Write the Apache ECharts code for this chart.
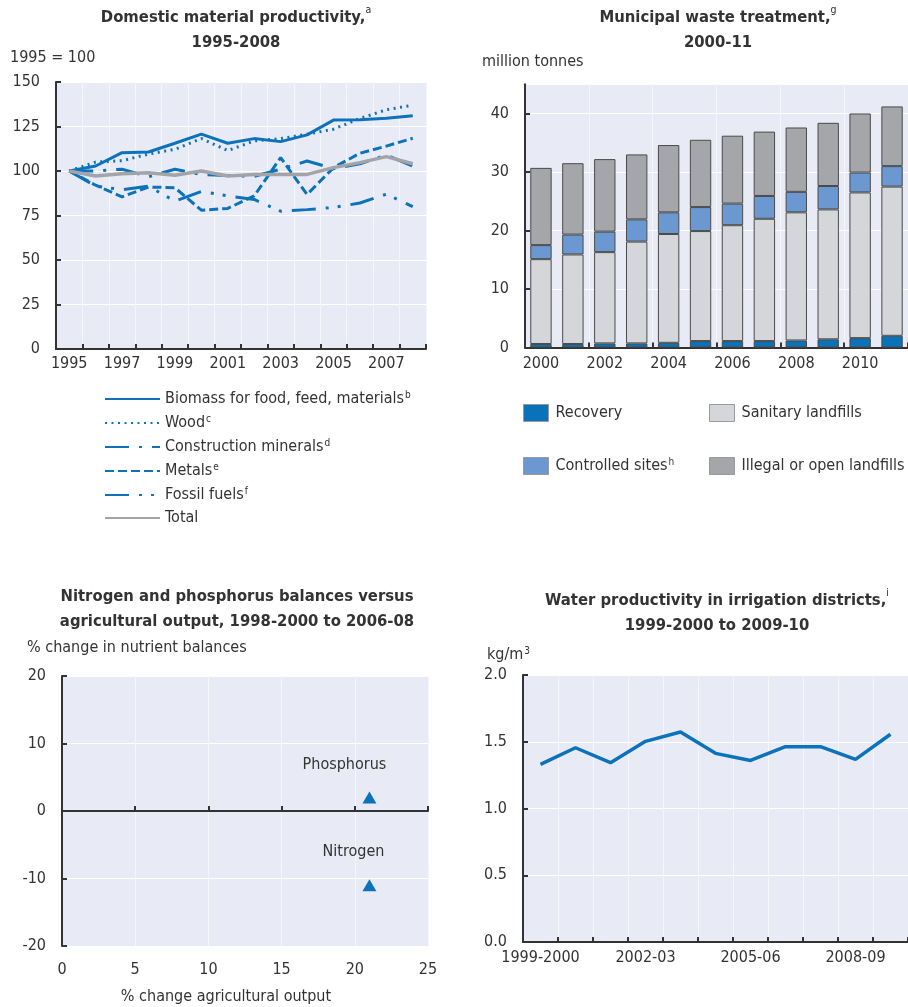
<!DOCTYPE html>
<html>
<head>
<meta charset="utf-8">
<script src="https://cdn.jsdelivr.net/npm/echarts@6/dist/echarts.min.js"></script>
<style>
  html, body { margin: 0; padding: 0; background: #ffffff; }
  #chart { width: 908px; height: 1007px; }
</style>
</head>
<body>
<div id="chart"></div>
<script>
// ---- Domestic material productivity, 1995 = 100 ----
const dmpYears = ['1995','1996','1997','1998','1999','2000','2001','2002','2003','2004','2005','2006','2007','2008'];
const biomass      = [100, 102.8, 110.3, 110.7, 115.6, 120.7, 115.6, 118.2, 116.5, 120.3, 128.6, 128.8, 129.7, 131.0];
const wood         = [100, 105.0, 105.8, 109.5, 112.2, 118.2, 111.5, 116.9, 118.2, 120.7, 123.5, 129.5, 134.4, 137.0];
const construction = [100, 100.0, 101.0, 96.8, 101.0, 98.0, 97.5, 97.0, 101.0, 105.6, 101.3, 104.0, 109.0, 102.8];
const metals       = [100, 92.0, 85.5, 91.0, 90.6, 78.0, 79.0, 86.0, 107.5, 86.8, 101.9, 110.0, 114.0, 118.4];
const fossil       = [100, 91.5, 89.5, 91.5, 83.0, 88.5, 86.0, 84.0, 77.4, 78.3, 79.5, 82.0, 87.0, 80.0];
const totalDmp     = [100, 97.2, 98.5, 99.0, 97.6, 100.0, 97.2, 98.1, 98.1, 98.1, 101.9, 104.7, 108.1, 104.1];

// ---- Municipal waste treatment, million tonnes ----
const wasteYears = ['2000','2001','2002','2003','2004','2005','2006','2007','2008','2009','2010','2011'];
const recovery   = [0.6, 0.6, 0.7, 0.7, 0.8, 1.1, 1.1, 1.1, 1.2, 1.4, 1.6, 2.0];
const sanitary   = [14.5, 15.3, 15.6, 17.4, 18.6, 18.8, 19.8, 20.9, 21.9, 22.2, 24.9, 25.5];
const controlled = [2.4, 3.4, 3.5, 3.8, 3.7, 4.1, 3.7, 3.9, 3.5, 4.0, 3.4, 3.5];
const illegal    = [13.2, 12.2, 12.4, 11.1, 11.5, 11.5, 11.6, 11.0, 11.0, 10.8, 10.1, 10.2];

// ---- Nutrient balances vs agricultural output (% change) ----
const nutrientNames = ['Phosphorus', 'Nitrogen'];
const agOutputChange = [21, 21];
const balanceChange  = [2, -11];

// ---- Water productivity in irrigation districts, kg/m3 ----
const waterSeasons = ['1999-2000','2000-01','2001-02','2002-03','2003-04','2004-05','2005-06','2006-07','2007-08','2008-09','2009-10'];
const waterProd    = [1.33, 1.455, 1.343, 1.503, 1.573, 1.413, 1.36, 1.463, 1.463, 1.368, 1.556];

const FONT = '"Liberation Sans Narrow","Arial Narrow","DejaVu Sans Condensed",sans-serif';
const BLUE = '#0c72ba';
const INK = '#333333';
const PLOT_BG = '#e8ebf6';

const supRich = {
  n: { fontFamily: FONT, fontSize: 16, fontWeight: 'normal', color: INK, lineHeight: 18 },
  s: { fontFamily: FONT, fontSize: 10, fontWeight: 'normal', color: INK, lineHeight: 18, verticalAlign: 'top', padding: [0, 0, 6, 1] }
};
const titleRich = {
  t: { fontFamily: FONT, fontSize: 16.5, fontWeight: 'bold', color: INK, lineHeight: 25 },
  s: { fontFamily: FONT, fontSize: 10.5, fontWeight: 'normal', color: INK, lineHeight: 25, verticalAlign: 'top', padding: [0, 0, 10, 0] }
};

function chartTitle(text, cx, top) {
  return { text: text, left: cx, top: top, textAlign: 'center', padding: 0,
           textStyle: { rich: titleRich } };
}
function unitLabel(text, left, top, align) {
  return { text: text, left: left, top: top, textAlign: align || 'left', padding: 0,
           textStyle: { fontWeight: 'normal', rich: supRich } };
}

function valueAxisY(grid, min, max, interval, fmt) {
  return {
    type: 'value', gridIndex: grid, min: min, max: max, interval: interval,
    axisLine: { show: true, lineStyle: { color: INK, width: 2 } },
    axisTick: { show: true, inside: true, length: 5, lineStyle: { color: INK, width: 2 } },
    axisLabel: { fontFamily: FONT, fontSize: 16, color: INK, margin: 16, formatter: fmt, showMaxLabel: max % interval === 0 },
    splitLine: { show: true, lineStyle: { color: '#ffffff', width: 1 } }
  };
}
function catAxisX(grid, data, labelInterval, tickInterval, margin) {
  return {
    type: 'category', gridIndex: grid, data: data, boundaryGap: true,
    axisLine: { show: true, onZero: false, lineStyle: { color: INK, width: 2 } },
    axisTick: { show: true, inside: true, length: 5, interval: tickInterval, lineStyle: { color: INK, width: 2 } },
    axisLabel: { fontFamily: FONT, fontSize: 16, color: INK, interval: labelInterval, margin: margin },
    splitLine: { show: true, interval: tickInterval, lineStyle: { color: '#f4f6fb', width: 1 } }
  };
}

function dmpLine(name, data, color, width, type) {
  return {
    name: name, type: 'line', xAxisIndex: 0, yAxisIndex: 0, data: data,
    symbol: 'none', smooth: false, z: name === 'Total' ? 3 : 2,
    lineStyle: { color: color, width: width, type: type, cap: 'butt' },
    itemStyle: { color: color }
  };
}
function wasteBar(name, data, color) {
  return {
    name: name, type: 'bar', stack: 'waste', xAxisIndex: 1, yAxisIndex: 1, data: data,
    barCategoryGap: '33%',
    itemStyle: { color: color, borderColor: '#4a4a4a', borderWidth: 1 }
  };
}

const legendSup = { 'Biomass for food, feed, materials': 'b', 'Wood': 'c', 'Construction minerals': 'd',
                    'Metals': 'e', 'Fossil fuels': 'f', 'Total': '', 'Controlled sites': 'h' };
function legendFormatter(name) {
  const s = legendSup[name];
  return s ? '{n|' + name + '}{s|' + s + '}' : '{n|' + name + '}';
}

const labelOffsets = { 'Phosphorus': [-25, -33], 'Nitrogen': [-16, -33] };

const boxLegend = function (left, names) {
  return {
    orient: 'vertical', left: left, top: 399, itemWidth: 25, itemHeight: 17, itemGap: 35, icon: 'rect',
    data: names,
    formatter: legendFormatter,
    itemStyle: { borderColor: '#9a9a9a', borderWidth: 1 },
    textStyle: { fontSize: 16, padding: [0, 0, 0, 2], rich: supRich }
  };
};

const option = {
  backgroundColor: '#ffffff',
  animation: false,
  title: [
    chartTitle('{t|Domestic material productivity,}{s|a}\n{t|1995-2008}', 236, 5),
    chartTitle('{t|Municipal waste treatment,}{s|g}\n{t|2000-11}', 718, 5),
    chartTitle('{t|Nitrogen and phosphorus balances versus}\n{t|agricultural output, 1998-2000 to 2006-08}', 237, 584),
    chartTitle('{t|Water productivity in irrigation districts,}{s|i}\n{t|1999-2000 to 2009-10}', 717, 588),
    unitLabel('{n|1995 = 100}', 10, 49),
    unitLabel('{n|million tonnes}', 482, 53),
    unitLabel('{n|% change in nutrient balances}', 27, 639),
    unitLabel('{n|kg/m}{s|3}', 487, 646),
    unitLabel('{n|% change agricultural output}', 226, 988, 'center')
  ],
  legend: [
    {
      orient: 'vertical', left: 99, top: 385, itemWidth: 55, itemHeight: 14, itemGap: 7,
      data: ['Biomass for food, feed, materials', 'Wood', 'Construction minerals', 'Metals', 'Fossil fuels', 'Total'],
      formatter: legendFormatter,
      itemStyle: { opacity: 0 },
      textStyle: { fontSize: 16, rich: supRich }
    },
    boxLegend(518, ['Recovery', 'Controlled sites']),
    boxLegend(704, ['Sanitary landfills', 'Illegal or open landfills'])
  ],
  grid: [
    { left: 56, top: 82, width: 370, height: 267, show: true, backgroundColor: PLOT_BG, borderWidth: 0 },
    { left: 525, top: 84.2, width: 393, height: 263.3, show: true, backgroundColor: PLOT_BG, borderWidth: 0 },
    { left: 62, top: 676, width: 366, height: 270, show: true, backgroundColor: PLOT_BG, borderWidth: 0 },
    { left: 523, top: 675, width: 393, height: 267, show: true, backgroundColor: PLOT_BG, borderWidth: 0 }
  ],
  xAxis: [
    catAxisX(0, dmpYears, 1, 0, 7),
    catAxisX(1, wasteYears, 1, 1, 8),
    {
      type: 'value', gridIndex: 2, min: 0, max: 25, interval: 5, position: 'bottom',
      axisLine: { show: false, onZero: false },
      axisTick: { show: false },
      axisLabel: { fontFamily: FONT, fontSize: 16, color: INK, margin: 16 },
      splitLine: { show: true, lineStyle: { color: '#f4f6fb', width: 1 } }
    },
    {
      type: 'value', gridIndex: 2, min: 0, max: 25, interval: 5, position: 'bottom',
      axisLine: { show: true, onZero: true, lineStyle: { color: INK, width: 2 } },
      axisTick: { show: true, inside: true, length: 5, lineStyle: { color: INK, width: 2 } },
      axisLabel: { show: false },
      splitLine: { show: false }
    },
    catAxisX(3, waterSeasons, 2, 0, 8)
  ],
  yAxis: [
    valueAxisY(0, 0, 150, 25),
    valueAxisY(1, 0, 45, 10),
    valueAxisY(2, -20, 20, 10),
    valueAxisY(3, 0, 2, 0.5, function (v) { return v.toFixed(1); })
  ],
  series: [
    dmpLine('Biomass for food, feed, materials', biomass, BLUE, 3, 'solid'),
    dmpLine('Wood', wood, BLUE, 3, [2, 4.5]),
    dmpLine('Construction minerals', construction, BLUE, 3, [24, 10, 3, 10]),
    dmpLine('Metals', metals, BLUE, 3, [9, 4]),
    dmpLine('Fossil fuels', fossil, BLUE, 3, [24, 10, 3, 9, 3, 10]),
    dmpLine('Total', totalDmp, '#a3a4a8', 3.5, 'solid'),

    wasteBar('Recovery', recovery, '#0a72b9'),
    wasteBar('Sanitary landfills', sanitary, '#d5d6d9'),
    wasteBar('Controlled sites', controlled, '#6b98d0'),
    wasteBar('Illegal or open landfills', illegal, '#a5a6aa'),

    {
      name: 'Nutrient balances', type: 'scatter', xAxisIndex: 2, yAxisIndex: 2,
      symbol: 'triangle', symbolSize: [14, 12],
      itemStyle: { color: BLUE, opacity: 1 },
      data: nutrientNames.map(function (n, i) {
        return {
          name: n, value: [agOutputChange[i], balanceChange[i]],
          label: { show: true, position: 'inside', offset: labelOffsets[n], formatter: n,
                   fontFamily: FONT, fontSize: 16, color: INK }
        };
      })
    },

    {
      name: 'Water productivity', type: 'line', xAxisIndex: 4, yAxisIndex: 3, data: waterProd,
      symbol: 'none', lineStyle: { color: BLUE, width: 3.5 }, itemStyle: { color: BLUE }
    }
  ]
};

const chart = echarts.init(document.getElementById('chart'), null, { renderer: 'canvas' });
chart.setOption(option);
</script>
</body>
</html>
